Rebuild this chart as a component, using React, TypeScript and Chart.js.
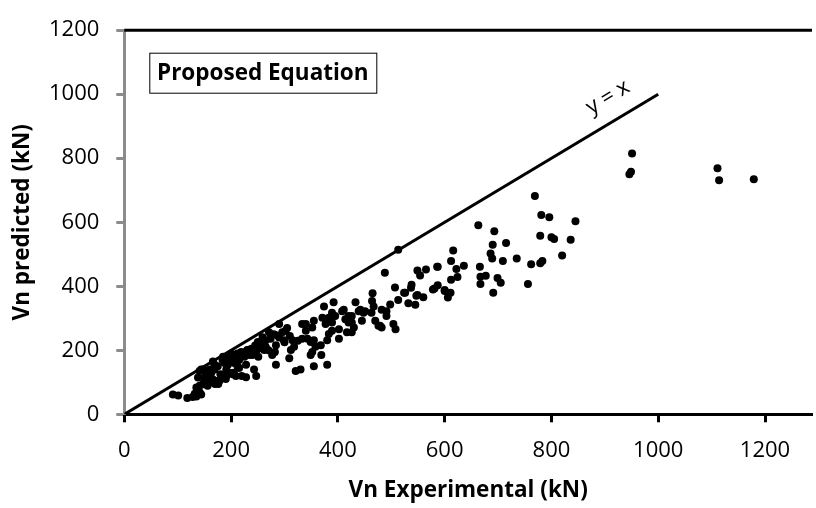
import React, { useEffect, useRef } from 'react';
import { Chart, registerables } from 'chart.js';

Chart.register(...registerables);

// Vn Experimental (kN)
const expX: number[] = [
  951, 949, 946, 1111, 1114, 1179,
  769, 781, 796, 845, 663, 693, 690, 715, 779, 800, 805, 836, 616, 686, 820,
  612, 636, 622, 587, 565, 549, 554, 666, 689, 709, 735, 762, 779, 783,
  677, 667, 667, 699, 705, 691, 756, 624, 612, 587, 578, 600, 611, 606, 538, 537, 524, 547, 560, 532, 545, 513, 513, 488, 507,
  498, 491, 491, 504, 508, 479, 482, 467, 465, 464, 451, 445, 433, 439, 408, 414, 426, 420, 430, 426, 417, 402, 402, 392,
  374, 389, 395, 383, 371, 377, 389, 389, 383, 380, 368, 380, 355, 352, 355, 349, 352, 358, 355, 369, 349, 340, 333, 340, 343, 333,
  330, 321, 315, 312, 318, 309, 302, 299, 296, 290, 287, 284, 282, 284, 277, 274, 271, 265, 262, 259, 253, 250, 247, 251, 247, 243,
  228, 228, 234, 231, 240, 219, 212, 215, 203, 206, 212, 197, 194, 203, 209, 197, 191, 191, 188, 184, 181, 178, 172, 166, 169, 169,
  166, 160, 156, 147, 144, 147, 141, 153, 150, 153, 160, 138, 141, 135, 138, 132, 141, 135, 144, 128, 118, 101, 91,
  470, 476, 482, 463, 442, 448, 411, 420, 426, 600, 581, 549, 526, 586, 220, 225, 200, 185, 175, 160, 260, 270, 245, 300, 325, 310, 290,
  180, 195, 210, 230, 255, 280, 305, 170, 190, 205, 215, 238, 265, 150, 163, 176,
];

// Vn predicted (kN)
const predY: number[] = [
  815, 758, 750, 769, 731, 734,
  682, 623, 616, 603, 591, 572, 530, 535, 558, 553, 548, 545, 512, 502, 496,
  479, 464, 454, 461, 452, 449, 434, 461, 487, 479, 487, 469, 472, 479,
  433, 430, 407, 426, 411, 380, 407, 429, 420, 403, 390, 385, 380, 365, 405, 395, 380, 370, 366, 347, 342, 357, 514, 442, 396,
  343, 322, 307, 282, 266, 277, 327, 337, 378, 354, 322, 292, 350, 322, 322, 297, 307, 287, 271, 256, 256, 266, 236, 350,
  337, 317, 307, 302, 302, 282, 287, 261, 251, 231, 216, 155, 292, 271, 231, 226, 195, 211, 150, 185, 185, 282, 282, 261, 236, 236,
  140, 135, 231, 201, 211, 175, 261, 231, 256, 282, 246, 216, 195, 155, 185, 236, 256, 231, 201, 241, 206, 226, 195, 180, 120, 140,
  155, 116, 185, 201, 185, 195, 190, 170, 175, 160, 150, 185, 155, 125, 120, 130, 120, 140, 160, 170, 115, 104, 104, 109, 155, 140,
  165, 99, 89, 94, 140, 140, 135, 135, 115, 109, 120, 115, 89, 84, 74, 64, 69, 56, 62, 54, 51, 59, 62,
  292, 277, 271, 317, 327, 317, 327, 307, 287, 388, 393, 373, 380, 461, 120, 180, 190, 180, 150, 140, 215, 200, 215, 225, 230, 245, 240,
  125, 165, 175, 200, 220, 250, 270, 95, 110, 130, 145, 205, 210, 100, 130, 95,
];

// y = x reference line end points
const refLineX: number[] = [0, 1000];
const refLineY: number[] = [0, 1000];

const xTickValues: number[] = [0, 200, 400, 600, 800, 1000, 1200];
const yTickValues: number[] = [0, 200, 400, 600, 800, 1000, 1200];

const xTitle = 'Vn Experimental (kN)';
const yTitle = 'Vn predicted (kN)';
const boxLabel = 'Proposed Equation';
const lineLabel = 'y = x';
const lineLabelAt = { x: 906, y: 990 };

const FONT = "'Open Sans', 'DejaVu Sans', sans-serif";

const decorPlugin = {
  id: 'decor',
  afterDraw(chart: any) {
    const { ctx, chartArea, scales } = chart;
    const xs = scales.x;
    const ys = scales.y;
    ctx.save();
    // top border
    ctx.strokeStyle = '#000';
    ctx.lineWidth = 3;
    ctx.beginPath();
    ctx.moveTo(chartArea.left, chartArea.top);
    ctx.lineTo(chartArea.right, chartArea.top);
    ctx.stroke();

    // label box
    const bx = chartArea.left + 25;
    const by = chartArea.top + 22.5;
    const bw = 227;
    const bh = 40;
    ctx.fillStyle = '#fff';
    ctx.fillRect(bx, by, bw, bh);
    ctx.lineWidth = 1;
    ctx.strokeStyle = '#000';
    ctx.strokeRect(bx + 0.5, by + 0.5, bw, bh);
    ctx.fillStyle = '#000';
    ctx.font = `bold 22.5px ${FONT}`;
    ctx.textAlign = 'center';
    ctx.textBaseline = 'middle';
    ctx.fillText(boxLabel, bx + bw / 2, by + bh / 2 + 1);

    // y = x label along the line
    const px0 = xs.getPixelForValue(refLineX[0]);
    const py0 = ys.getPixelForValue(refLineY[0]);
    const px1 = xs.getPixelForValue(refLineX[1]);
    const py1 = ys.getPixelForValue(refLineY[1]);
    const ang = Math.atan2(py1 - py0, px1 - px0);
    const lx = xs.getPixelForValue(lineLabelAt.x);
    const ly = ys.getPixelForValue(lineLabelAt.y);
    ctx.translate(lx, ly);
    ctx.rotate(ang);
    ctx.font = `22px ${FONT}`;
    ctx.fillText(lineLabel, 0, 0);
    ctx.restore();
  },
};

const plainTick = (v: any) => String(v);

export default function App() {
  const canvasRef = useRef<HTMLCanvasElement | null>(null);

  useEffect(() => {
    const canvas = canvasRef.current;
    if (!canvas) return;
    const points = expX.map((x, i) => ({ x, y: predY[i] }));
    const ref = refLineX.map((x, i) => ({ x, y: refLineY[i] }));
    const chart = new Chart(canvas, {
      type: 'scatter',
      data: {
        datasets: [
          {
            type: 'line' as any,
            data: ref,
            borderColor: '#000',
            borderWidth: 3,
            pointRadius: 0,
            fill: false,
            order: 2,
          } as any,
          {
            data: points,
            backgroundColor: '#000',
            borderColor: '#000',
            pointRadius: 4,
            pointBorderWidth: 0,
            order: 1,
          },
        ],
      },
      options: {
        animation: false,
        responsive: false,
        maintainAspectRatio: false,
        layout: { padding: { top: 19.5, right: 0, bottom: 0, left: 0 } },
        plugins: {
          legend: { display: false },
          tooltip: { enabled: false },
        },
        scales: {
          x: {
            type: 'linear',
            min: 0,
            max: 1288,
            afterBuildTicks: (scale: any) => {
              scale.ticks = xTickValues.map((v) => ({ value: v }));
            },
            afterFit: (scale: any) => {
              scale.height = 93.7;
            },
            border: { display: true, color: '#000', width: 3 },
            grid: {
              display: true,
              drawOnChartArea: false,
              drawTicks: true,
              tickLength: 8,
              tickColor: '#000',
              tickWidth: 3,
            },
            ticks: {
              color: '#000',
              padding: 15,
              callback: plainTick,
              font: { family: FONT, size: 22 },
            },
            title: {
              display: true,
              text: xTitle,
              color: '#000',
              font: { family: FONT, size: 22.5, weight: 'bold' },
              padding: { top: 0, bottom: 3.5 },
            },
          },
          y: {
            type: 'linear',
            min: 0,
            max: 1200,
            afterBuildTicks: (scale: any) => {
              scale.ticks = yTickValues.map((v) => ({ value: v }));
            },
            afterFit: (scale: any) => {
              scale.width = 124.3;
            },
            border: { display: true, color: '#8c8c8c', width: 3 },
            grid: {
              display: true,
              drawOnChartArea: false,
              drawTicks: true,
              tickLength: 8,
              tickColor: '#8c8c8c',
              tickWidth: 3,
            },
            ticks: {
              color: '#000',
              padding: 17,
              callback: plainTick,
              font: { family: FONT, size: 22 },
            },
            title: {
              display: true,
              text: yTitle,
              color: '#000',
              font: { family: FONT, size: 22.5, weight: 'bold' },
              padding: { top: 9.5, bottom: 0 },
            },
          },
        },
      },
      plugins: [decorPlugin],
    });
    return () => chart.destroy();
  }, []);

  return (
    <div style={{ position: 'fixed', left: 0, top: 0, width: 816, height: 508, background: '#fff' }}>
      <canvas ref={canvasRef} width={816} height={508} style={{ display: 'block' }} />
    </div>
  );
}
